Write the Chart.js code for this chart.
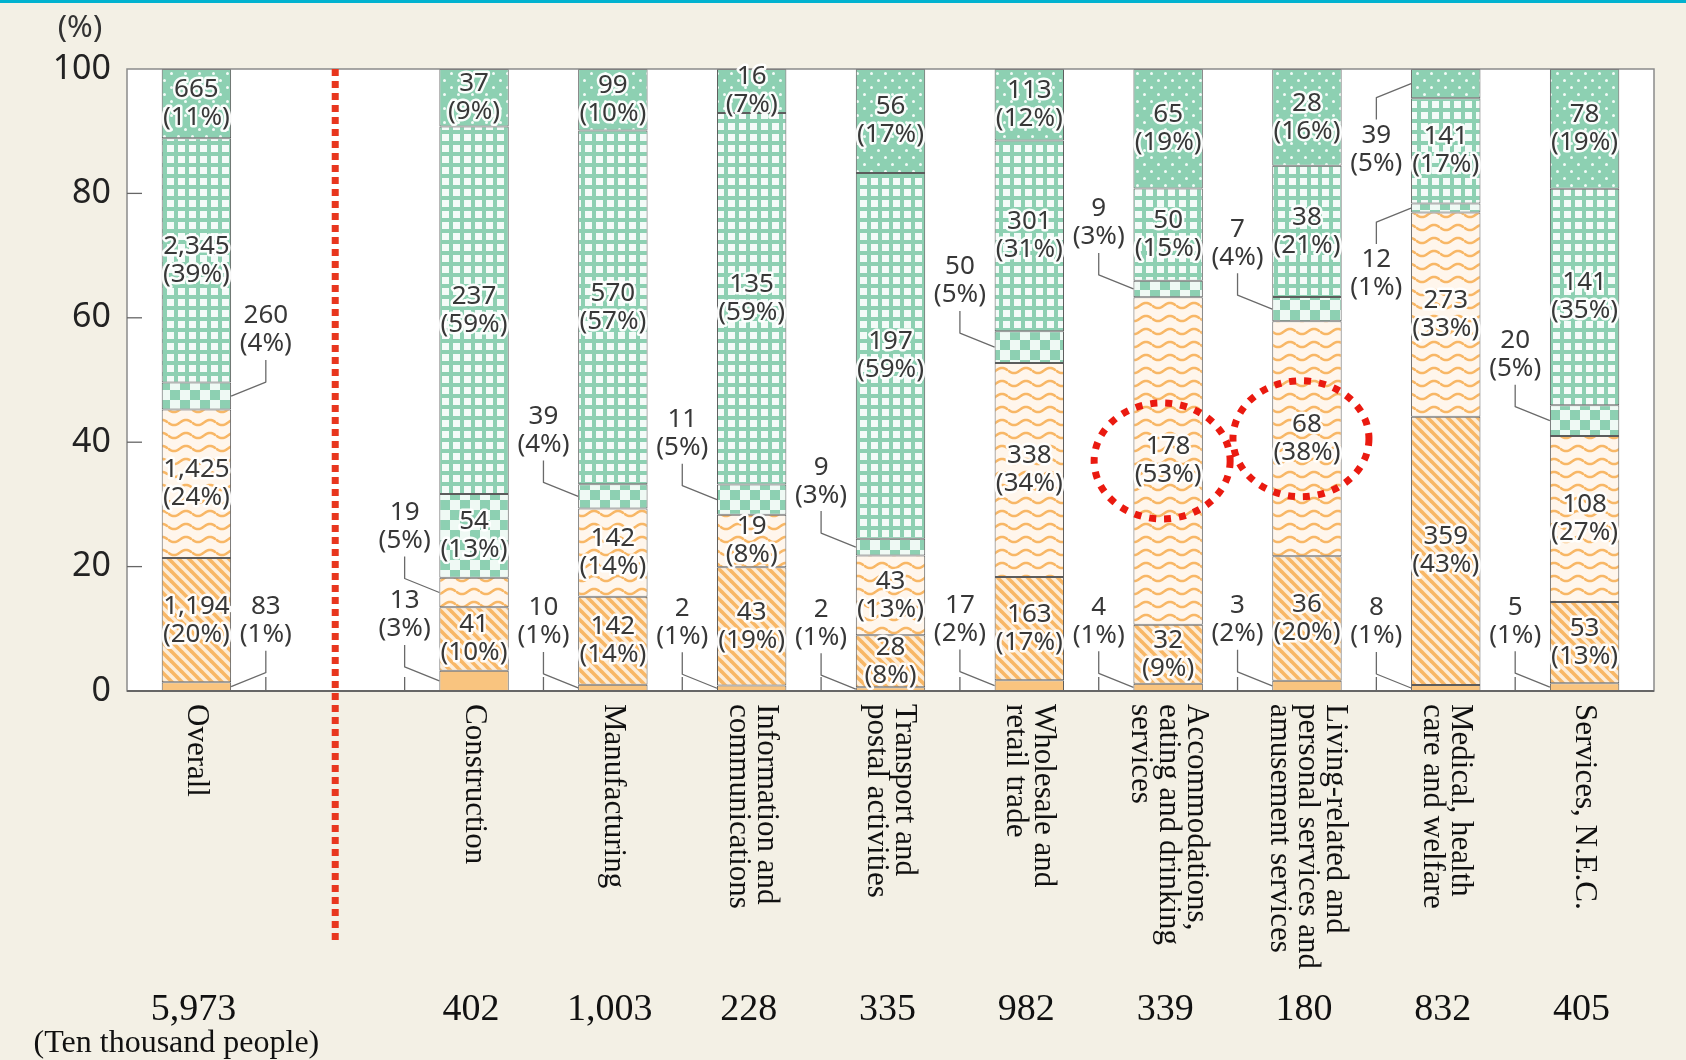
<!DOCTYPE html>
<html>
<head>
<meta charset="utf-8">
<script src="https://cdn.jsdelivr.net/npm/chart.js@4"></script>
<style>
html,body{margin:0;padding:0;background:#f3f0e5;}
#wrap{width:1686px;height:1060px;}
</style>
</head>
<body>
<div id="wrap"><canvas id="c" width="1686" height="1060"></canvas></div>
<script>
// categories (multi-line), index 1 is the empty slot for the red separator
var categories = [['Overall'], [], ['Construction'], ['Manufacturing'], ['Information and','communications'],
  ['Transport and','postal activities'], ['Wholesale and','retail trade'],
  ['Accommodations,','eating and drinking','services'], ['Living-related and','personal services and','amusement services'],
  ['Medical, health','care and welfare'], ['Services, N.E.C.']];
var totals = ['5,973', '', '402', '1,003', '228', '335', '982', '339', '180', '832', '405'];

// segments bottom -> top (ten thousand people) and the shares printed on the chart
var solid      = [83,   null, 13,  10,  2,   2,   17,  4,   3,  8,   5];
var solidPct   = [1,    null, 3,   1,   1,   1,   2,   1,   2,  1,   1];
var stripe     = [1194, null, 41,  142, 43,  28,  163, 32,  36, 359, 53];
var stripePct  = [20,   null, 10,  14,  19,  8,   17,  9,   20, 43,  13];
var wavy       = [1425, null, 19,  142, 19,  43,  338, 178, 68, 273, 108];
var wavyPct    = [24,   null, 5,   14,  8,   13,  34,  53,  38, 33,  27];
var checker    = [260,  null, 54,  39,  11,  9,   50,  9,   7,  12,  20];
var checkerPct = [4,    null, 13,  4,   5,   3,   5,   3,   4,  1,   5];
var grid       = [2345, null, 237, 570, 135, 197, 301, 50,  38, 141, 141];
var gridPct    = [39,   null, 59,  57,  59,  59,  31,  15,  21, 17,  35];
var dotted     = [665,  null, 37,  99,  16,  56,  113, 65,  28, 39,  78];
var dottedPct  = [11,   null, 9,   10,  7,   17,  12,  19,  16, 5,   19];
var yTicks = [0, 20, 40, 60, 80, 100];
var circled = [7, 8];

var series = [solid, stripe, wavy, checker, grid, dotted];
var seriesPct = [solidPct, stripePct, wavyPct, checkerPct, gridPct, dottedPct];

function tile(w, h, draw) {
  var c = document.createElement('canvas');
  c.width = w; c.height = h;
  draw(c.getContext('2d'), w, h);
  return document.createElement('canvas').getContext('2d').createPattern(c, 'repeat');
}
var orange = '#f8b766', green = '#8dd0b2';
var solidFill = '#f9c47f';
var stripeFill = tile(10, 10, function(g, w, h) {
  g.fillStyle = '#fdedd8'; g.fillRect(0, 0, w, h);
  g.strokeStyle = orange; g.lineWidth = 3.6;
  [-10, 0, 10].forEach(function(o) { g.beginPath(); g.moveTo(o - 2, -2); g.lineTo(o + 12, 12); g.stroke(); });
});
var wavyFill = tile(24, 13, function(g, w, h) {
  g.fillStyle = '#fff6ec'; g.fillRect(0, 0, w, h);
  g.strokeStyle = orange; g.lineWidth = 2.5;
  g.beginPath();
  for (var x = 0; x <= w; x++) {
    var y = 6.5 + 2.6 * Math.sin(x / w * Math.PI * 2);
    if (x === 0) g.moveTo(x, y); else g.lineTo(x, y);
  }
  g.stroke();
});
var checkerFill = tile(20, 20, function(g, w, h) {
  g.fillStyle = '#eff9f4'; g.fillRect(0, 0, w, h);
  g.fillStyle = green; g.fillRect(0, 0, 10, 10); g.fillRect(10, 10, 10, 10);
});
var gridFill = tile(11, 11, function(g, w, h) {
  g.fillStyle = green; g.fillRect(0, 0, w, h);
  g.fillStyle = '#f4fbf8'; g.fillRect(2, 2, 7, 7);
});
var dotFill = tile(14, 14, function(g, w, h) {
  g.fillStyle = green; g.fillRect(0, 0, w, h);
  g.fillStyle = '#f2fbf7';
  [[3.5, 3.5], [10.5, 10.5]].forEach(function(p) { g.beginPath(); g.arc(p[0], p[1], 1.5, 0, Math.PI * 2); g.fill(); });
});
var fills = [solidFill, stripeFill, wavyFill, checkerFill, gridFill, dotFill];

var sums = categories.map(function(c, i) {
  return series.reduce(function(s, a) { return s + (a[i] || 0); }, 0);
});

var datasets = series.map(function(arr, k) {
  return {
    data: arr.map(function(v, i) { return v == null ? null : v / sums[i] * 100; }),
    backgroundColor: fills[k], borderColor: '#5c5c5c', borderWidth: 1, borderSkipped: false,
    categoryPercentage: 0.5, barPercentage: 1
  };
});

function haloText(ctx, txt, x, y) {
  ctx.lineWidth = 5; ctx.lineJoin = 'round'; ctx.strokeStyle = 'rgba(255,255,255,0.95)';
  ctx.strokeText(txt, x, y);
  ctx.fillStyle = '#383838';
  ctx.fillText(txt, x, y);
}

var decor = {
  id: 'decor',
  beforeDraw: function(chart) {
    var ctx = chart.ctx, a = chart.chartArea;
    ctx.save();
    ctx.fillStyle = '#f3f0e5'; ctx.fillRect(0, 0, chart.width, chart.height);
    ctx.fillStyle = '#00b2cf'; ctx.fillRect(0, 0, chart.width, 3);
    ctx.fillStyle = '#ffffff'; ctx.fillRect(a.left, a.top, a.right - a.left, a.bottom - a.top);
    ctx.restore();
  },
  afterDatasetsDraw: function(chart) {
    var ctx = chart.ctx, a = chart.chartArea, xs = chart.scales.x, ys = chart.scales.y;
    ctx.save();
    // frame
    ctx.strokeStyle = '#8a8a8a'; ctx.lineWidth = 1.5;
    ctx.strokeRect(a.left, a.top, a.right - a.left, a.bottom - a.top);
    ctx.strokeStyle = '#666'; ctx.lineWidth = 2;
    ctx.beginPath(); ctx.moveTo(a.left, a.bottom); ctx.lineTo(a.right, a.bottom); ctx.stroke();
    // inward ticks
    ctx.strokeStyle = '#666'; ctx.lineWidth = 1.3;
    yTicks.slice(1, -1).forEach(function(t) {
      var y = ys.getPixelForValue(t);
      ctx.beginPath(); ctx.moveTo(a.left, y); ctx.lineTo(a.left + 15, y); ctx.stroke();
    });
    for (var i = 0; i < categories.length - 1; i++) {
      var bx = (xs.getPixelForValue(i) + xs.getPixelForValue(i + 1)) / 2;
      ctx.beginPath(); ctx.moveTo(bx, a.bottom); ctx.lineTo(bx, a.bottom - 14); ctx.stroke();
    }
    // "(%)"
    ctx.fillStyle = '#333'; ctx.font = '31px "Noto Sans"'; ctx.textAlign = 'center'; ctx.textBaseline = 'middle';
    ctx.fillText('(%)', 80, 28);

    // segment labels
    ctx.font = '26px "Noto Sans"';
    series.forEach(function(arr, k) {
      var meta = chart.getDatasetMeta(k);
      arr.forEach(function(v, i) {
        if (v == null) return;
        var bar = meta.data[i];
        var segY = (bar.y + bar.base) / 2;
        var pct = seriesPct[k][i];
        var l1 = v.toLocaleString('en-US'), l2 = '(' + pct + '%)';
        ctx.textAlign = 'center'; ctx.textBaseline = 'middle';
        if (pct >= 6) {
          haloText(ctx, l1, bar.x, segY - 14);
          haloText(ctx, l2, bar.x, segY + 14);
          return;
        }
        var side = i === 0 ? 1 : -1;
        var edge = bar.x + side * bar.width / 2;
        var lx = bar.x + side * xs.width / categories.length / 2;
        var dir = ys.getValueForPixel(segY) > 70 ? 1 : -1;
        var ly = segY + dir * 66;
        ctx.strokeStyle = '#6a6a6a'; ctx.lineWidth = 1.3;
        ctx.beginPath();
        ctx.moveTo(lx, segY + dir * 36); ctx.lineTo(lx, segY + dir * 14); ctx.lineTo(edge, segY);
        ctx.stroke();
        haloText(ctx, l1, lx, ly - 14);
        haloText(ctx, l2, lx, ly + 14);
      });
    });

    // red dotted separator
    ctx.strokeStyle = '#e8361e'; ctx.lineWidth = 7; ctx.setLineDash([7, 5]);
    var sx = xs.getPixelForValue(1);
    ctx.beginPath(); ctx.moveTo(sx, a.top); ctx.lineTo(sx, a.bottom + 250); ctx.stroke();

    // red dotted circles
    ctx.strokeStyle = '#ea1a10'; ctx.lineWidth = 7; ctx.setLineDash([7, 8]);
    var wm = chart.getDatasetMeta(2);
    circled.forEach(function(i) {
      var b = wm.data[i];
      ctx.beginPath(); ctx.ellipse(b.x - 6, (b.y + b.base) / 2, 68, 58, 0, 0, Math.PI * 2); ctx.stroke();
    });
    ctx.setLineDash([]);

    // category labels, rotated clockwise
    ctx.fillStyle = '#111'; ctx.font = '31px "Liberation Serif"';
    ctx.textAlign = 'left'; ctx.textBaseline = 'middle';
    categories.forEach(function(lines, i) {
      var cx = xs.getPixelForValue(i);
      ctx.save();
      ctx.translate(cx, a.bottom + 13);
      ctx.rotate(Math.PI / 2);
      lines.forEach(function(t, j) {
        ctx.fillText(t, 0, (j - (lines.length - 1) / 2) * 28);
      });
      ctx.restore();
    });
    // totals
    ctx.textAlign = 'center';
    ctx.font = '38px "Liberation Serif"';
    totals.forEach(function(t, i) { ctx.fillText(t, xs.getPixelForValue(i) - 3, 1010); });
    ctx.font = '32px "Liberation Serif"';
    ctx.fillText('(Ten thousand people)', xs.getPixelForValue(0) - 20, 1044);
    ctx.restore();
  }
};

new Chart(document.getElementById('c').getContext('2d'), {
  type: 'bar',
  data: { labels: categories.map(function(c) { return c.join(' '); }), datasets: datasets },
  options: {
    responsive: false, animation: false, devicePixelRatio: 1,
    layout: { padding: { top: 69, right: 32, left: 0, bottom: 0 } },
    plugins: { legend: { display: false }, tooltip: { enabled: false } },
    scales: {
      x: {
        stacked: true, offset: true,
        grid: { display: false }, border: { display: false },
        ticks: { display: false },
        afterFit: function(s) { s.height = 369; }
      },
      y: {
        stacked: true, min: 0, max: 100,
        afterBuildTicks: function(s) { s.ticks = yTicks.map(function(v) { return { value: v }; }); },
        grid: { display: false, drawTicks: false }, border: { display: false },
        ticks: { padding: 16, color: '#222', font: { family: 'Noto Sans', size: 34 } },
        afterFit: function(s) { s.width = 127; }
      }
    }
  },
  plugins: [decor]
});
</script>
</body>
</html>
